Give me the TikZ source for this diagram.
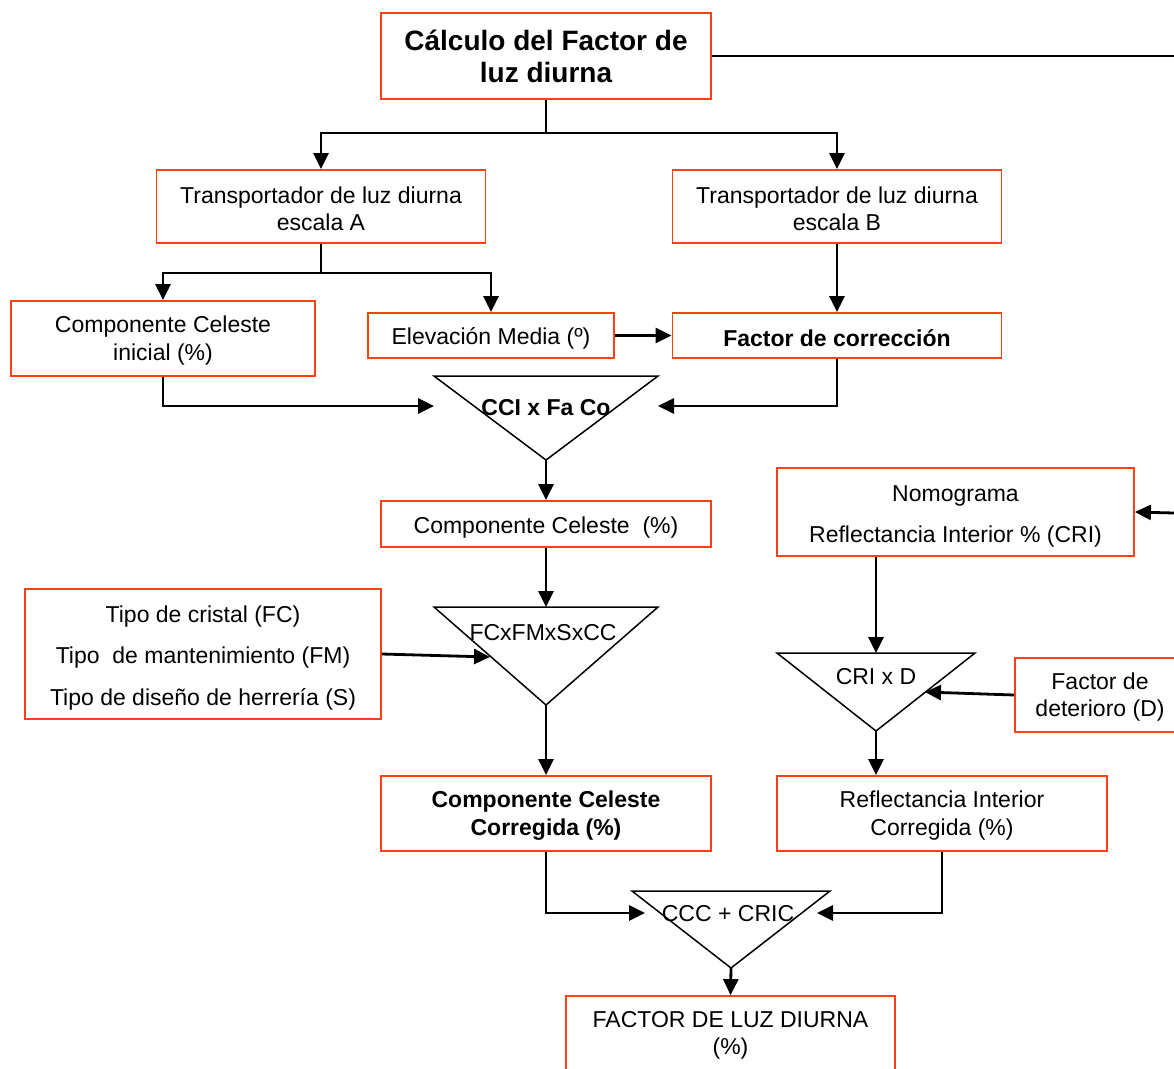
\documentclass[tikz,border=0pt]{standalone}
\usepackage{fontspec}
\setmainfont{Liberation Sans}
\usetikzlibrary{arrows.meta}
\definecolor{boxred}{HTML}{FF4010}
\newcommand\topgap{\rule{0pt}{23pt}}
\newcommand\topgapb{\rule{0pt}{24.5pt}}
\newcommand\topgapc{\rule{0pt}{21pt}}
\begin{document}
\begin{tikzpicture}[x=1pt,y=-1pt,
  box/.style={draw=boxred, line width=1.8pt, align=center, inner sep=0pt, text=black,
    font=\fontsize{23}{27.6}\selectfont},
  boldtxt/.style={font=\bfseries\fontsize{23}{27.6}\selectfont},
  conn/.style={line width=2.8pt, draw=black},
  arr/.style={conn, -{Triangle[length=16pt,width=15pt]}},
  tri/.style={draw=black, line width=1.5pt, line join=miter},
  tlabel/.style={inner sep=0pt, font=\fontsize{23}{27.6}\selectfont}
]
\path[use as bounding box, clip] (0,0) rectangle (1174,1068);

% ---------- boxes ----------
\node[box, minimum width=330pt, minimum height=86pt,
      font=\bfseries\fontsize{28}{32}\selectfont] (title) at (546,56) {Cálculo del Factor de\\luz diurna};
\node[box, minimum width=329pt, minimum height=73pt] (boxA) at (321,206.5) {\topgapc Transportador de luz diurna\\escala A};
\node[box, minimum width=329pt, minimum height=73pt] (boxB) at (837,206.5) {\topgapc Transportador de luz diurna\\escala B};
\node[box, minimum width=304pt, minimum height=75pt] (cci) at (163,338.5) {\topgapc Componente Celeste\\inicial (\%)};
\node[box, minimum width=246pt, minimum height=45pt] (elev) at (491,335.5) {\topgap Elevación Media (º)};
\node[box, boldtxt, minimum width=329pt, minimum height=45pt] (fcorr) at (837,335.5) {\topgap Factor de corrección};
\node[box, minimum width=330pt, minimum height=46pt] (cc) at (546,524) {\topgap Componente Celeste\ \ (\%)};
\node[box, minimum width=356pt, minimum height=130pt] (tipo) at (203,654)
  {\topgapb Tipo de cristal (FC)\\[14pt]Tipo\ \ de mantenimiento (FM)\\[14pt]Tipo de diseño de herrería (S)};
\node[box, boldtxt, minimum width=330pt, minimum height=75pt] (ccc) at (546,813.5) {\topgapc Componente Celeste\\Corregida (\%)};
\node[box, minimum width=357pt, minimum height=88pt] (nomo) at (955.5,512) {\topgapb Nomograma\\[13pt]Reflectancia Interior \% (CRI)};
\node[box, minimum width=170pt, minimum height=74pt] (fdet) at (1100,695) {\topgapc Factor de\\deterioro (D)};
\node[box, minimum width=330pt, minimum height=75pt] (ric) at (942,813.5) {\topgapc Reflectancia Interior\\Corregida (\%)};
\node[box, minimum width=329pt, minimum height=74pt] (fld) at (730.5,1033) {\topgapc FACTOR DE LUZ DIURNA\\(\%)};

% ---------- triangles ----------
\coordinate (t1L) at (434,376); \coordinate (t1R) at (658,376); \coordinate (t1B) at (546,460);
\coordinate (t2L) at (434,607); \coordinate (t2R) at (658,607); \coordinate (t2B) at (546,705);
\coordinate (t3L) at (777,653); \coordinate (t3R) at (975,653); \coordinate (t3B) at (876,731);
\coordinate (t4L) at (632,891); \coordinate (t4R) at (830,891); \coordinate (t4B) at (731,968);
\draw[tri] (t1L) -- (t1R) -- (t1B) -- cycle;
\draw[tri] (t2L) -- (t2R) -- (t2B) -- cycle;
\draw[tri] (t3L) -- (t3R) -- (t3B) -- cycle;
\draw[tri] (t4L) -- (t4R) -- (t4B) -- cycle;
\node[tlabel, font=\bfseries\fontsize{23}{27.6}\selectfont] (t1txt) at (546,408) {CCI x Fa Co};
\node[tlabel] (t2txt) at (543,633) {FCxFMxSxCC};
\node[tlabel] (t3txt) at (876,677) {CRI x D};
\node[tlabel] (t4txt) at (728,914) {CCC + CRIC};

% entry points
\coordinate (t1inL) at (434,406); \coordinate (t1inR) at (658,406);
\coordinate (t2T) at (546,607);   \coordinate (t2inL) at (490,657);
\coordinate (t3T) at (876,653);   \coordinate (t3inR) at (925,692);
\coordinate (t4inL) at (645,913); \coordinate (t4inR) at (817,913);
\coordinate (edge1) at (1174,56); \coordinate (edge2) at (1174,513);

% ---------- connectors ----------
\draw[conn] (title.east) -- (edge1);
\draw[conn] (title.south) -- ++(0,33) coordinate (jT);
\draw[arr] (jT) -| (boxA.north);
\draw[arr] (jT) -| (boxB.north);
\draw[conn] (boxA.south) -- ++(0,29) coordinate (jA);
\draw[arr] (jA) -| (cci.north);
\draw[arr] (jA) -| (elev.north);
\draw[arr] (boxB.south) -- (fcorr.north);
\draw[arr] (elev.east) -- (fcorr.west);
\draw[arr] (cci.south) |- (t1inL);
\draw[arr] (fcorr.south) |- (t1inR);
\draw[arr] (t1B) -- (cc.north);
\draw[arr] (cc.south) -- (t2T);
\draw[arr] (tipo.east) -- (t2inL);
\draw[arr] (t2B) -- (ccc.north);
\draw[arr] (edge2) -- (nomo.east);
\draw[arr] (nomo.south -| t3T) -- (t3T);
\draw[arr] (fdet.west) -- (t3inR);
\draw[arr] (t3B) -- (t3B |- ric.north);
\draw[arr] (ccc.south) |- (t4inL);
\draw[arr] (ric.south) |- (t4inR);
\draw[arr] (t4B) -- (fld.north);
\end{tikzpicture}
\end{document}
